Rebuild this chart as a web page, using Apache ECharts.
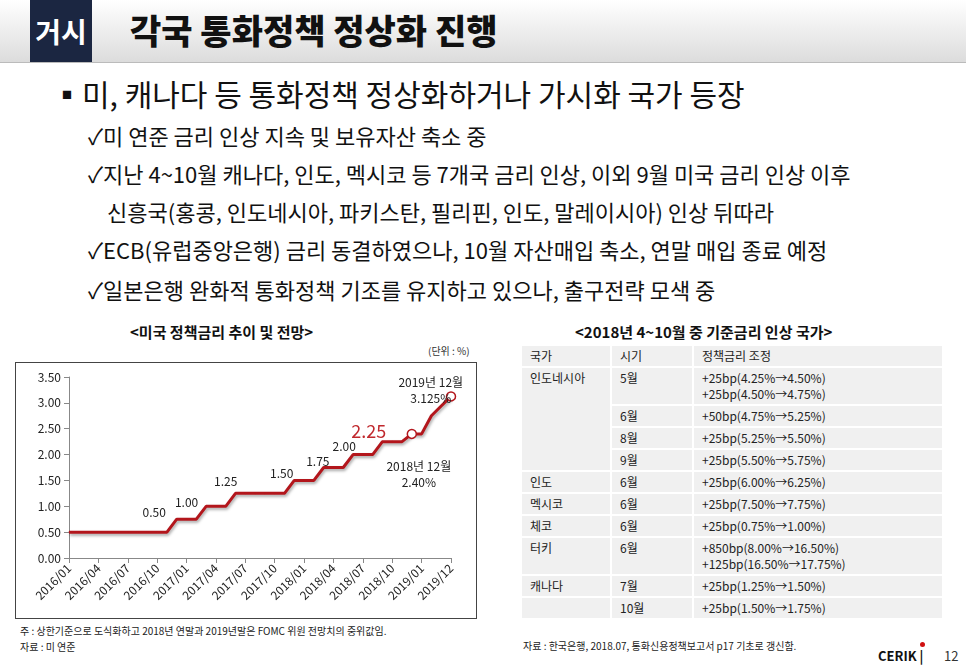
<html>
<head>
<meta charset="utf-8">
<script src="https://cdn.jsdelivr.net/npm/echarts@6/dist/echarts.min.js"></script>
<style>
body { margin:0; width:966px; height:669px; position:relative; overflow:hidden; background:#fff; font-family:"Noto Sans CJK KR","Noto Sans",sans-serif; color:#111; }
.abs { position:absolute; white-space:nowrap; }
#bar { left:0; top:0; width:966px; height:62px; background:linear-gradient(#ffffff,#dcdcdc); border-bottom:1px solid #bbb; }
#tag { left:30px; top:0; width:62px; height:62px; background:#1b2641; color:#fff; font-size:28px; font-weight:bold; text-align:center; line-height:62px; }
#title { left:130px; top:6px; font-size:34px; font-weight:900; line-height:48px; }
.chk { font-size:22px; line-height:30px; }
#main { left:15px; top:362px; width:460px; height:255px; border:1px solid #444; }
table { position:absolute; left:520px; top:344px; border-collapse:separate; border-spacing:2px; font-size:12px; color:#222; }
td { background:#f0f0f0; vertical-align:top; padding:2px 8px 2px 8px; line-height:16px; }
</style>
</head>
<body>
<div class="abs" id="bar"></div>
<div class="abs" id="tag">거시</div>
<div class="abs" id="title">각국 통화정책 정상화 진행</div>
<div class="abs" style="left:52px;top:73px;font-size:30px;line-height:40px;">▪미, 캐나다 등 통화정책 정상화하거나 가시화 국가 등장</div>
<div class="abs chk" style="left:88px;top:120px;">✓미 연준 금리 인상 지속 및 보유자산 축소 중</div>
<div class="abs chk" style="left:88px;top:158px;">✓지난 4~10월 캐나다, 인도, 멕시코 등 7개국 금리 인상, 이외 9월 미국 금리 인상 이후</div>
<div class="abs chk" style="left:107px;top:196px;">신흥국(홍콩, 인도네시아, 파키스탄, 필리핀, 인도, 말레이시아) 인상 뒤따라</div>
<div class="abs chk" style="left:88px;top:234px;">✓ECB(유럽중앙은행) 금리 동결하였으나, 10월 자산매입 축소, 연말 매입 종료 예정</div>
<div class="abs chk" style="left:88px;top:274px;">✓일본은행 완화적 통화정책 기조를 유지하고 있으나, 출구전략 모색 중</div>
<div class="abs" style="left:130px;top:321px;font-size:15px;font-weight:bold;">&lt;미국 정책금리 추이 및 전망&gt;</div>
<div class="abs" style="left:428px;top:343px;font-size:10px;color:#333;">(단위 : %)</div>
<div class="abs" id="main"></div>
<div class="abs" style="left:20px;top:623px;font-size:10px;line-height:16px;color:#222;">주 : 상한기준으로 도식화하고 2018년 연말과 2019년말은 FOMC 위원 전망치의 중위값임.<br>자료 : 미 연준</div>
<div class="abs" style="left:575px;top:321px;font-size:15px;font-weight:bold;">&lt;2018년 4~10월 중 기준금리 인상 국가&gt;</div>
<table>
<tr><td style="width:72px;height:16px">국가</td><td style="width:64px">시기</td><td style="width:232px">정책금리 조정</td></tr>
<tr><td rowspan="4">인도네시아</td><td style="height:32px">5월</td><td>+25bp(4.25%→4.50%)<br>+25bp(4.50%→4.75%)</td></tr>
<tr><td>6월</td><td>+50bp(4.75%→5.25%)</td></tr>
<tr><td>8월</td><td>+25bp(5.25%→5.50%)</td></tr>
<tr><td>9월</td><td>+25bp(5.50%→5.75%)</td></tr>
<tr><td>인도</td><td>6월</td><td>+25bp(6.00%→6.25%)</td></tr>
<tr><td>멕시코</td><td>6월</td><td>+25bp(7.50%→7.75%)</td></tr>
<tr><td>체코</td><td>6월</td><td>+25bp(0.75%→1.00%)</td></tr>
<tr><td>터키</td><td style="height:32px">6월</td><td>+850bp(8.00%→16.50%)<br>+125bp(16.50%→17.75%)</td></tr>
<tr><td>캐나다</td><td>7월</td><td>+25bp(1.25%→1.50%)</td></tr>
<tr><td></td><td>10월</td><td>+25bp(1.50%→1.75%)</td></tr>
</table>
<div class="abs" style="left:523px;top:638px;font-size:10px;color:#222;">자료 : 한국은행, 2018.07, 통화신용정책보고서 p17 기초로 갱신함.</div>
<div class="abs" style="left:878px;top:646px;font-size:13px;font-weight:bold;">CERIK |</div>
<div class="abs" style="left:920px;top:642px;width:5px;height:5px;border-radius:3px;background:#d01010;"></div>
<div class="abs" style="left:944px;top:646px;font-size:13px;color:#333;">12</div>
<script>
// months on the category axis (labels shown every 3rd)
var months = [
  '2016/01','2016/02','2016/03','2016/04','2016/05','2016/06','2016/07','2016/08','2016/09','2016/10','2016/11','2016/12',
  '2017/01','2017/02','2017/03','2017/04','2017/05','2017/06','2017/07','2017/08','2017/09','2017/10','2017/11','2017/12',
  '2018/01','2018/02','2018/03','2018/04','2018/05','2018/06','2018/07','2018/08','2018/09','2018/10','2018/11','2018/12',
  '2019/01','2019/05','2019/09','2019/12'
];
// upper bound of the fed funds target rate
var rates = [
  0.5,0.5,0.5,0.5,0.5,0.5,0.5,0.5,0.5,0.5,0.5,0.75,
  0.75,0.75,1.0,1.0,1.0,1.25,1.25,1.25,1.25,1.25,1.25,1.5,
  1.5,1.5,1.75,1.75,1.75,2.0,2.0,2.0,2.25,2.25,2.25,2.4,
  2.4,2.75,2.94,3.125
];
var yTicks = [0, 0.5, 1, 1.5, 2, 2.5, 3, 3.5];

var red = '#b3161c';
var labels = {
  9:  {text: '0.50', offset: [-3, -8]},
  12: {text: '1.00', offset: [0, -5]},
  16: {text: '1.25', offset: [0, -13]},
  21: {text: '1.50', offset: [7, -8]},
  25: {text: '1.75', offset: [4, -7]},
  28: {text: '2.00', offset: [1, -9]},
  31: {text: '2.25', offset: [-4, -9], big: true}
};

var data = rates.map(function (v, i) {
  var item = {value: v};
  if (labels[i]) {
    var l = labels[i];
    item.label = {show: true, position: 'top', offset: l.offset, formatter: l.text,
      fontSize: l.big ? 18 : 12, color: l.big ? '#c0282d' : '#222'};
  }
  return item;
});
data[35].symbolSize = 9;
data[35].label = {show: true, position: 'bottom', offset: [7, 14], formatter: '2018년 12월\n2.40%', fontSize: 12, color: '#222', lineHeight: 16, align: 'center'};
data[39].symbolSize = 9;
data[39].label = {show: true, position: 'left', offset: [-10, -6], formatter: '2019년 12월\n3.125%', fontSize: 12, color: '#222', lineHeight: 16, align: 'center'};

var chart = echarts.init(document.getElementById('main'));
chart.setOption({
  animation: false,
  textStyle: {fontFamily: 'Noto Sans CJK KR'},
  grid: {left: 53, top: 14, right: 25, bottom: 60},
  xAxis: {
    type: 'category', data: months, boundaryGap: false,
    axisLine: {lineStyle: {color: '#888'}},
    axisTick: {interval: 2, lineStyle: {color: '#888'}},
    axisLabel: {interval: 2, rotate: 45, fontSize: 12, color: '#222', margin: 8}
  },
  yAxis: {
    type: 'value', min: yTicks[0], max: yTicks[yTicks.length - 1], interval: 0.5,
    axisLine: {show: true, lineStyle: {color: '#888'}},
    axisTick: {show: true, lineStyle: {color: '#888'}},
    splitLine: {show: false},
    axisLabel: {fontSize: 12, color: '#222', formatter: function (v) { return v.toFixed(2); }}
  },
  series: [{
    type: 'line', data: data, symbol: 'circle', symbolSize: 0.1, showAllSymbol: true,
    lineStyle: {color: red, width: 3, shadowColor: 'rgba(0,0,0,0.35)', shadowBlur: 3, shadowOffsetX: 1, shadowOffsetY: 2},
    itemStyle: {color: '#fff', borderColor: red, borderWidth: 1.5}
  }]
});
</script>
</body>
</html>
